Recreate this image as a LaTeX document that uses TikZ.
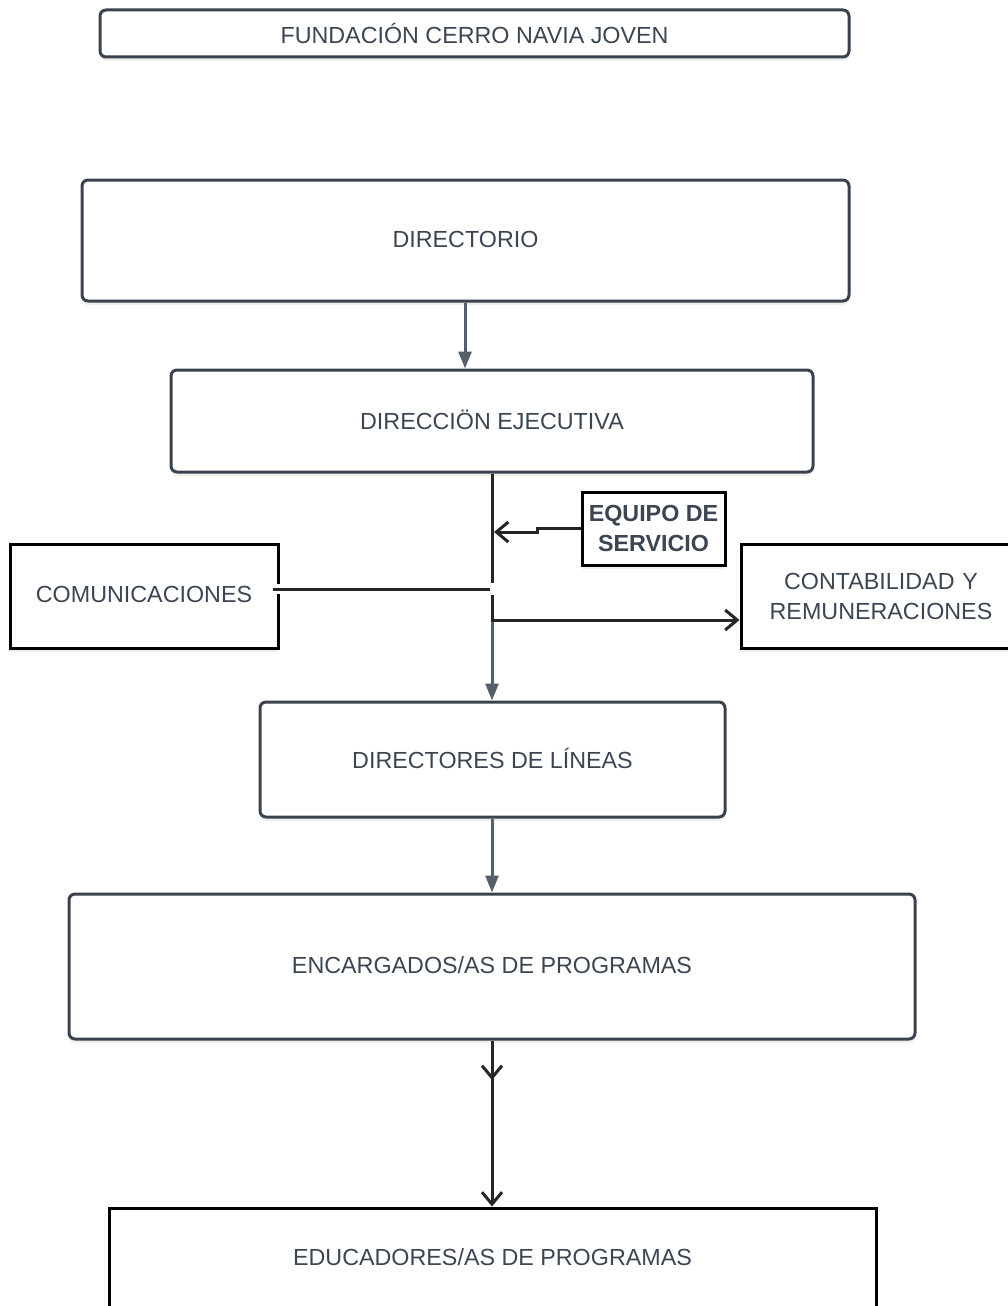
\documentclass[tikz,border=0pt]{standalone}
\usepackage{fontspec}
\setmainfont{Liberation Sans}
\usetikzlibrary{arrows.meta,shadows,positioning}
\definecolor{txt}{HTML}{3C4652}
\definecolor{boxgray}{HTML}{3A424D}
\definecolor{lngray}{HTML}{56606C}
\tikzset{
  rbox/.style={draw=boxgray, line width=3pt, rounded corners=6pt, fill=white,
    text=txt, font=\fontsize{23.3}{30}\selectfont, align=center, inner sep=0pt,
    drop shadow={opacity=0.12, shadow xshift=0pt, shadow yshift=-4pt}},
  sbox/.style={draw=black, line width=3pt, fill=white,
    text=txt, font=\fontsize{23.3}{30}\selectfont, align=center, inner sep=0pt,
    drop shadow={opacity=0.12, shadow xshift=0pt, shadow yshift=-4pt}},
  garrow/.style={draw=lngray, line width=3pt, -{Triangle[length=17pt,width=13pt]}},
  barb/.style={draw=black!85, line width=3pt, -{Straight Barb[length=12pt,width=20pt,line width=3pt]}},
}
\begin{document}
\begin{tikzpicture}[x=1pt,y=-1pt]
\useasboundingbox[fill=white] (0,0) rectangle (1007,1306);
\node[rbox, minimum width=749pt, minimum height=47pt] (top) at (474.5,33.5) {FUNDACIÓN CERRO NAVIA JOVEN};
\node[rbox, minimum width=767pt, minimum height=121pt] (dir) at (465.5,240.5) {\raisebox{3pt}{DIRECTORIO}};
\node[rbox, minimum width=642pt, minimum height=102pt] (dej) at (492,421) {\raisebox{3pt}{DIRECCIÖN EJECUTIVA}};
\node[sbox, minimum width=143pt, minimum height=73pt, font=\fontsize{23.3}{30}\selectfont\bfseries] (equ) at (653.5,528.5) {EQUIPO DE\\SERVICIO};
\node[sbox, minimum width=268pt, minimum height=104pt] (com) at (144,596) {\raisebox{3pt}{COMUNICACIONES}};
\node[sbox, minimum width=280pt, minimum height=104pt, text width=280pt] (cont) at (881,596) {CONTABILIDAD Y\\REMUNERACIONES};
\node[rbox, minimum width=465pt, minimum height=115pt] (dlin) at (492.5,759.5) {\raisebox{3pt}{DIRECTORES DE LÍNEAS}};
\node[rbox, minimum width=846pt, minimum height=145pt] (enc) at (492,966.5) {\raisebox{3pt}{ENCARGADOS/AS DE PROGRAMAS}};
\node[sbox, minimum width=767pt, minimum height=100pt] (edu) at (492.5,1258) {\raisebox{2pt}{EDUCADORES/AS DE PROGRAMAS}};

\coordinate (jtop) at (492,583);
\coordinate (jbot) at (492,595);
\coordinate (cend) at (490,589);
\coordinate (cturn) at (492,620);

% directorio -> direccion
\draw[garrow] (dir.south -| 465,0) -- (dej.north -| 465,0);
% direccion -> directores
\draw[draw=black!85, line width=3pt] (dej.south -| jtop) -- (jtop);
\draw[garrow] (jbot) -- (dlin.north -| jbot);
% directores -> encargados
\draw[garrow] (dlin.south -| 492,0) -- (enc.north -| 492,0);
% contabilidad
\draw[barb] (jbot) -- (cturn) -- (cturn -| cont.west);
% equipo
\draw[barb] (equ.west |- 0,528) -- (537,528) -- (537,532) -- (494,532);
% comunicaciones with halo
\draw[white, line width=10pt] (272,589) -- (498,589);
\draw[black!85, line width=3pt] (273,589) -- (cend);
% encargados -> educadores
\draw[barb] (enc.south -| 492,0) -- (492,1080);
\draw[barb] (492,1075) -- (edu.north -| 492,0);
\end{tikzpicture}
\end{document}
